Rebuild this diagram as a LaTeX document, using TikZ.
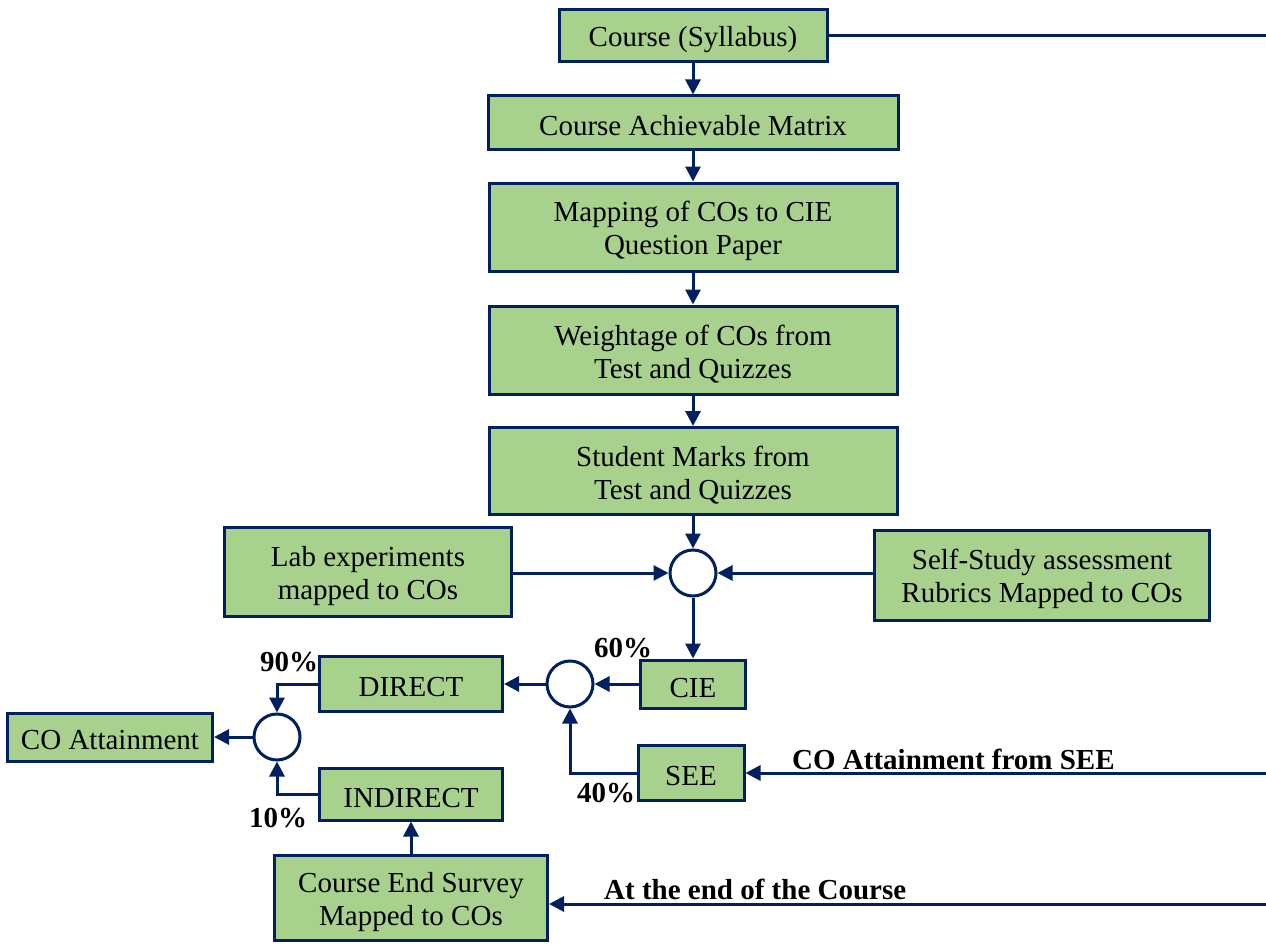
\documentclass[tikz,border=0pt]{standalone}
\usepackage{fontspec}
\setmainfont{Liberation Serif}
\usetikzlibrary{arrows.meta,calc}
\definecolor{navy}{RGB}{0,32,96}
\definecolor{boxgreen}{RGB}{169,209,142}
\begin{document}
\begin{tikzpicture}[x=1pt,y=-1pt,
 box/.style={draw=navy,fill=boxgreen,line width=3pt,inner sep=0pt},
 txt/.style={align=center,inner sep=0pt,font=\fontsize{29}{33}\selectfont},
 junc/.style={circle,draw=navy,line width=3pt,fill=white,minimum size=46pt,inner sep=0pt},
 conn/.style={draw=navy,line width=3pt},
 arr/.style={conn,-{Triangle[length=15pt,width=15pt]}},
 pct/.style={font=\bfseries\fontsize{29}{33}\selectfont,inner sep=0pt}]
\useasboundingbox (0,0) rectangle (1266,947);
\node[box,minimum width=268pt,minimum height=52pt] (c1) at (693,36) {};
\node[box,minimum width=410pt,minimum height=54pt] (c2) at (693,123) {};
\node[box,minimum width=408pt,minimum height=88pt] (c3) at (693,227) {};
\node[box,minimum width=408pt,minimum height=88pt] (c4) at (693,350) {};
\node[box,minimum width=408pt,minimum height=87pt] (c5) at (693,471) {};
\node[box,minimum width=287pt,minimum height=89pt] (lab) at (368,572) {};
\node[box,minimum width=335pt,minimum height=90pt] (self) at (1042,575) {};
\node[junc] (j1) at (693,573) {};
\node[box,minimum width=105pt,minimum height=48pt] (cie) at (693,684) {};
\node[junc] (j2) at (570,684) {};
\node[box,minimum width=183pt,minimum height=55pt] (dir) at (411,684) {};
\node[box,minimum width=106pt,minimum height=55pt] (see) at (691,773) {};
\node[junc] (j3) at (277,737) {};
\node[box,minimum width=205pt,minimum height=48pt] (coa) at (110,737) {};
\node[box,minimum width=183pt,minimum height=52pt] (ind) at (411,794) {};
\node[box,minimum width=273pt,minimum height=85pt] (ces) at (411,898) {};
\node[txt] (tc1) at ([yshift=-4pt]c1.center) {Course (Syllabus)};
\node[txt] (tc2) at ([yshift=-3pt]c2.center) {Course Achievable Matrix};
\node[txt] (tc3) at ([yshift=-4pt]c3.center) {Mapping of COs to CIE\\Question Paper};
\node[txt] (tc4) at ([yshift=-4pt]c4.center) {Weightage of COs from\\Test and Quizzes};
\node[txt] (tc5) at ([yshift=-4pt]c5.center) {Student Marks from\\Test and Quizzes};
\node[txt] (tlab) at ([yshift=-4pt]lab.center) {Lab experiments\\mapped to COs};
\node[txt] (tself) at ([yshift=-4pt]self.center) {Self-Study assessment\\Rubrics Mapped to COs};
\node[txt] (tcie) at ([yshift=-4pt]cie.center) {CIE};
\node[txt] (tdir) at ([yshift=-3pt]dir.center) {DIRECT};
\node[txt] (tsee) at ([yshift=-3pt]see.center) {SEE};
\node[txt] (tcoa) at ([yshift=-3pt]coa.center) {CO Attainment};
\node[txt] (tind) at ([yshift=-4pt]ind.center) {INDIRECT};
\node[txt] (tces) at ([yshift=-4pt]ces.center) {Course End Survey\\Mapped to COs};
\coordinate (r1) at (1266,36);
\coordinate (r2) at (1266,773);
\coordinate (r3) at (1266,904);
\draw[conn] (c1.east) -- (r1);
\draw[arr] (c1) -- (c2);
\draw[arr] (c2) -- (c3);
\draw[arr] (c3) -- (c4);
\draw[arr] (c4) -- (c5);
\draw[arr] (c5) -- (j1);
\draw[arr] (j1) -- (cie);
\draw[arr] (lab.east |- j1) -- (j1.west);
\draw[arr] (self.west |- j1) -- (j1.east);
\draw[arr] (cie) -- (j2);
\draw[arr] (see.west) -| (j2.south);
\draw[arr] (j2) -- (dir);
\draw[arr] (dir.west) -| (j3.north);
\draw[arr] (ind.west) -| (j3.south);
\draw[arr] (j3) -- (coa);
\draw[arr] (ces) -- (ind);
\draw[arr] (r2) -- (see.east);
\draw[arr] (r3) -- (ces.east |- r3);
\node[pct] (p60) at (623,648) {60\%};
\node[pct] (p90) at (289,662) {90\%};
\node[pct] (p10) at (278,818) {10\%};
\node[pct] (p40) at (606,793) {40\%};
\node[pct,anchor=base west] (l1) at (792,769) {CO Attainment from SEE};
\node[pct,anchor=base west] (l2) at (604,899) {At the end of the Course};
\end{tikzpicture}
\end{document}
